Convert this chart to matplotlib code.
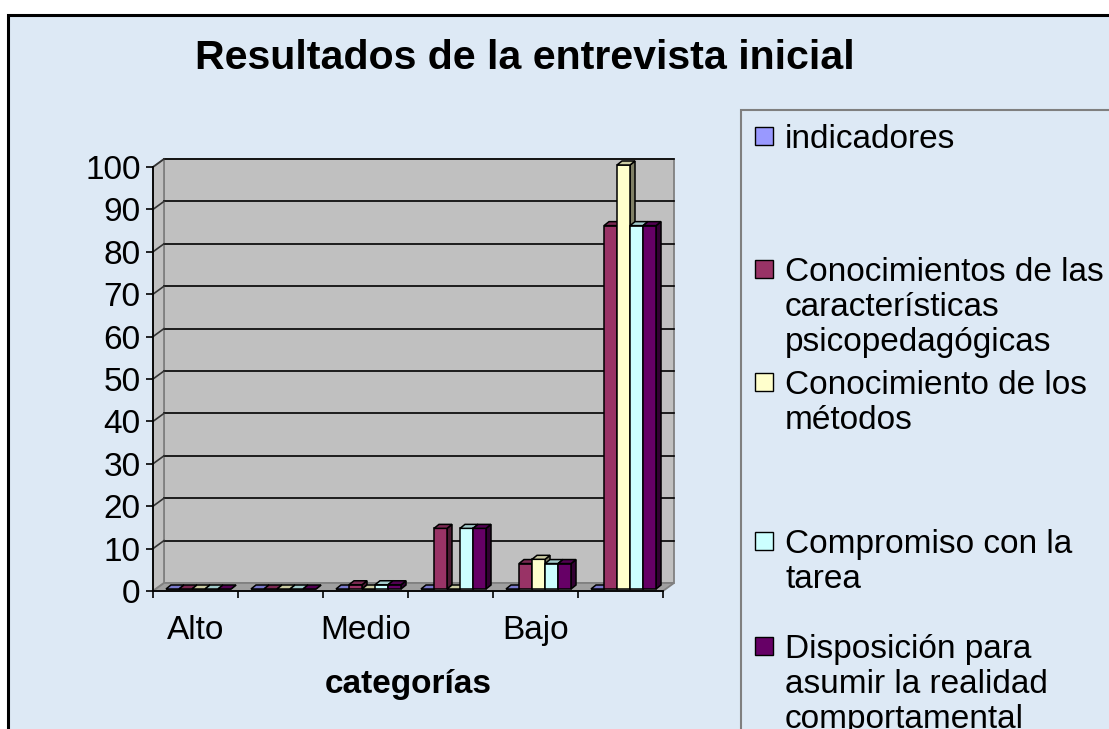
import matplotlib
matplotlib.use("Agg")
import matplotlib.pyplot as plt
from matplotlib.patches import Rectangle, Polygon
import matplotlib.colors as mcolors
import numpy as np

plt.rcParams['font.family'] = ['Liberation Sans', 'DejaVu Sans']

# ---------------- data ----------------
title = "Resultados de la entrevista inicial"
xlabel = "categorías"
tick_labels = ["Alto", "", "Medio", "", "Bajo", ""]
series_names = [
    "indicadores",
    "Conocimientos de las\ncaracterísticas\npsicopedagógicas",
    "Conocimiento de los\nmétodos",
    "Compromiso con la\ntarea",
    "Disposición para\nasumir la realidad\ncomportamental",
]
indicadores = [0, 0, 0, 0, 0, 0]
conoc_caracteristicas = [0, 0, 1, 14.3, 6, 85.7]
conoc_metodos = [0, 0, 0, 0, 7, 100]
compromiso = [0, 0, 1, 14.3, 6, 85.7]
disposicion = [0, 0, 1, 14.3, 6, 85.7]
series_values = [indicadores, conoc_caracteristicas, conoc_metodos, compromiso, disposicion]
series_colors = ["#9999FF", "#993366", "#FFFFCC", "#CCFFFF", "#660066"]
yticks = list(range(0, 101, 10))

# ---------------- layout ----------------
W, H = 1109, 729
BG = "#DDE9F5"
fig = plt.figure(figsize=(W / 100, H / 100), dpi=100, facecolor="white")


def fx(x):
    return x / W


def fy(y):
    return 1 - y / H


# chart area
fig.add_artist(Rectangle((fx(8), fy(745)), fx(1125) - fx(8), fy(15) - fy(745),
                         transform=fig.transFigure, facecolor=BG, edgecolor="black",
                         lw=2.2, zorder=-10))

ax = fig.add_axes([fx(153), fy(591), fx(663) - fx(153), fy(167) - fy(591)])
ax.patch.set_visible(False)
ncat = len(tick_labels)
ax.set_xlim(0, ncat)
ax.set_ylim(0, 100)

# 3D offsets (data units)
pxc = (663 - 153) / ncat
pxv = (591 - 167) / 100
dxw, dyw = 11 / pxc, 8 / pxv      # wall depth
bx, by = 3 / pxc, 2 / pxv         # bar front offset
ddx, ddy = 5 / pxc, 4 / pxv       # bar depth
bw = 0.153
gap = (1 - bw * len(series_values)) / 2

# walls
ax.add_patch(Polygon([(dxw, dyw), (ncat + dxw, dyw), (ncat + dxw, 100 + dyw), (dxw, 100 + dyw)],
                     closed=True, facecolor="#C0C0C0", edgecolor="#808080", lw=1.3,
                     clip_on=False, zorder=0.5))
ax.add_patch(Polygon([(0, 0), (dxw, dyw), (dxw, 100 + dyw), (0, 100)],
                     closed=True, facecolor="#C0C0C0", edgecolor="#808080", lw=1.3,
                     clip_on=False, zorder=0.55))
ax.add_patch(Polygon([(0, 0), (ncat, 0), (ncat + dxw, dyw), (dxw, dyw)],
                     closed=True, facecolor="#A0A0A0", edgecolor="#808080", lw=1.3,
                     clip_on=False, zorder=0.6))
for v in yticks[1:]:
    ax.plot([dxw, ncat + dxw], [v + dyw, v + dyw], color="black", lw=1.2,
            clip_on=False, zorder=0.7)
    ax.plot([0, dxw], [v, v + dyw], color="#333333", lw=1.2, clip_on=False, zorder=0.7)


def shade(c, f):
    r, g, b = mcolors.to_rgb(c)
    return (r * f, g * f, b * f)


z = 1.0
for c in range(ncat):
    for i, (vals, col) in enumerate(zip(series_values, series_colors)):
        h = vals[c]
        x0 = c + gap + bx + i * bw
        y0 = by
        kw = dict(edgecolor="black", lw=1.1, clip_on=False, joinstyle="miter")
        side = Polygon([(x0 + bw, y0), (x0 + bw + ddx, y0 + ddy),
                        (x0 + bw + ddx, y0 + h + ddy), (x0 + bw, y0 + h)],
                       closed=True, facecolor=shade(col, 0.5), zorder=z, **kw)
        front = Rectangle((x0, y0), bw, h, facecolor=col, zorder=z + 0.001, **kw)
        top = Polygon([(x0, y0 + h), (x0 + bw, y0 + h), (x0 + bw + ddx, y0 + h + ddy),
                       (x0 + ddx, y0 + h + ddy)], closed=True,
                      facecolor=shade(col, 0.8), zorder=z + 0.002, **kw)
        ax.add_patch(side)
        ax.add_patch(front)
        ax.add_patch(top)
        z += 0.01

# axes / ticks
for s in ["top", "right"]:
    ax.spines[s].set_visible(False)
for s in ["left", "bottom"]:
    ax.spines[s].set_color("black")
    ax.spines[s].set_linewidth(1.3)
    ax.spines[s].set_zorder(5)
ax.set_yticks(yticks)
ax.tick_params(axis="y", length=5, width=1.2, labelsize=24, pad=4, colors="black")
ax.set_xticks(np.arange(ncat + 1))
ax.set_xticklabels([""] * (ncat + 1))
ax.tick_params(axis="x", which="major", length=5, width=1.2, color="black")
ax.set_xticks(np.arange(ncat) + 0.5, minor=True)
ax.set_xticklabels(tick_labels, minor=True)
ax.tick_params(axis="x", which="minor", length=0, pad=17, labelsize=24)

# titles
fig.text(fx(524.5), fy(69), title, ha="center", va="baseline", fontsize=29.6,
         fontweight="bold")
fig.text(fx(408), fy(684), xlabel, ha="center", va="center", fontsize=24,
         fontweight="bold")

# legend
fig.add_artist(Rectangle((fx(741), fy(745)), fx(1125) - fx(741), fy(110) - fy(745),
                         transform=fig.transFigure, facecolor=BG, edgecolor="#7F7F7F",
                         lw=1.5, zorder=-5))
entry_first_baselines = [148, 281, 394, 553, 658]
line_step = 35
for name, col, yb in zip(series_names, series_colors, entry_first_baselines):
    fig.add_artist(Rectangle((fx(755), fy(yb - 3)), fx(18), 18 / H,
                             transform=fig.transFigure, facecolor=col,
                             edgecolor="black", lw=1.0, zorder=2))
    for k, line in enumerate(name.split("\n")):
        fig.text(fx(785), fy(yb + k * line_step), line, ha="left", va="baseline",
                 fontsize=24)

fig.savefig("out.png", dpi=100, facecolor="white")
